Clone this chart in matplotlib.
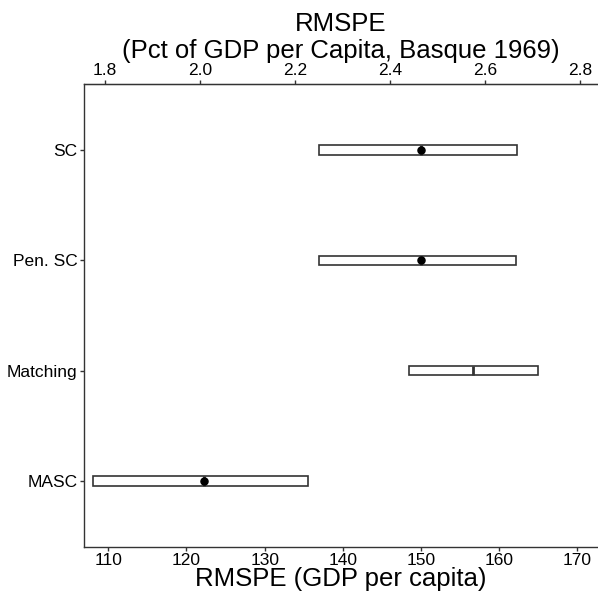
import matplotlib
matplotlib.use("Agg")
import matplotlib.pyplot as plt

plt.rcParams["font.family"] = ["Liberation Sans", "DejaVu Sans"]

# data (RMSPE, GDP per capita)
methods = ["MASC", "Matching", "Pen. SC", "SC"]
q_low = [108.0, 148.5, 136.9, 136.9]
q_high = [135.5, 165.0, 162.2, 162.3]
medians = [122.3, 156.7, 150.0, 150.0]
means = [122.3, None, 150.0, 150.0]
gdp_scale = 60.85  # RMSPE / pct of GDP per capita (Basque 1969)

W, H = 598, 597
fig = plt.figure(figsize=(W / 100, H / 100), dpi=100)
ax = fig.add_axes([84 / W, (H - 547) / H, (597 - 84) / W, (547 - 84) / H])

stats = []
for name, lo, hi, med in zip(methods, q_low, q_high, medians):
    stats.append({"label": name, "q1": lo, "q3": hi, "med": med,
                  "whislo": lo, "whishi": hi, "fliers": []})

ax.bxp(stats, positions=range(1, len(methods) + 1), orientation="horizontal",
       widths=0.085, showcaps=False, patch_artist=True,
       boxprops=dict(facecolor="white", edgecolor="#333333", linewidth=1.2),
       medianprops=dict(color="#333333", linewidth=2),
       whiskerprops=dict(color="#333333", linewidth=1.2))

for i, m in enumerate(means):
    if m is not None:
        ax.scatter(m, i + 1, s=26, color="black", zorder=5)

ax.set_xlim(106.9, 172.5)
ax.set_ylim(0.4, 4.6)
ax.set_xticks([110, 120, 130, 140, 150, 160, 170])
ax.set_yticks(range(1, len(methods) + 1))
ax.set_yticklabels(methods)
ax.tick_params(axis="both", labelsize=12.5, colors="#333333", labelcolor="black",
               length=3, width=1, pad=1.5)
ax.set_xlabel("RMSPE (GDP per capita)", fontsize=18.5, labelpad=-1)

ax.spines["right"].set_visible(False)
for side in ["left", "bottom", "top"]:
    ax.spines[side].set_color("#333333")
    ax.spines[side].set_linewidth(1)

sec = ax.secondary_xaxis("top", functions=(lambda x: x / gdp_scale,
                                           lambda x: x * gdp_scale))
sec.set_xticks([1.8, 2.0, 2.2, 2.4, 2.6, 2.8])
sec.set_xticklabels(["1.8", "2.0", "2.2", "2.4", "2.6", "2.8"])
sec.tick_params(axis="x", labelsize=12.5, colors="#333333", labelcolor="black",
                length=3, width=1, pad=1)
sec.set_xlabel("RMSPE\n(Pct of GDP per Capita, Basque 1969)", fontsize=18.5,
               linespacing=1.15, labelpad=4)

fig.savefig("out.png", dpi=100)
